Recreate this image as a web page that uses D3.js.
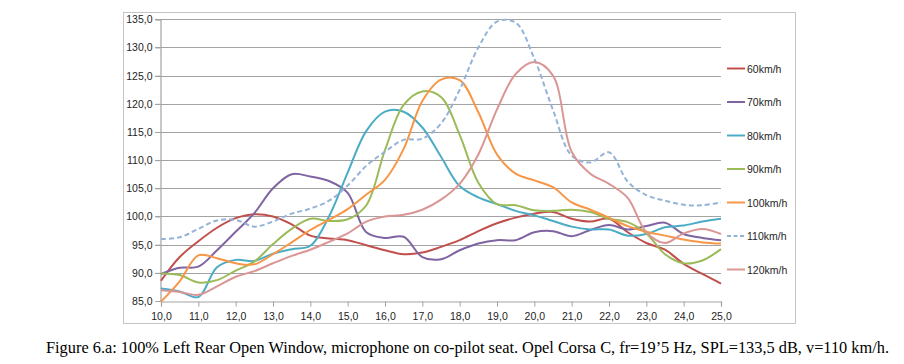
<!DOCTYPE html>
<html>
<head>
<meta charset="utf-8">
<script src="https://cdn.jsdelivr.net/npm/d3@7"></script>
<style>
  html, body { margin: 0; padding: 0; background: #ffffff; }
  svg { display: block; }
</style>
</head>
<body>
<svg id="chart" width="904" height="364"></svg>
<script>
// ---- data ----
const freqs = [10,10.5,11,11.5,12,12.5,13,13.5,14,14.5,15,15.5,16,16.5,17,17.5,18,18.5,19,19.5,20,20.5,21,21.5,22,22.5,23,23.5,24,24.5,25];
const seriesNames = ["60km/h","70km/h","80km/h","90km/h","100km/h","110km/h","120km/h"];
const v60  = [88.6,92.8,95.6,98.0,99.7,100.4,100.0,98.6,96.6,96.1,95.8,94.9,94.0,93.3,93.6,94.6,95.8,97.4,98.8,99.8,100.5,100.8,99.6,99.1,99.6,97.2,95.3,94.1,91.6,89.8,88.1];
const v70  = [89.8,90.9,91.1,94.0,97.3,100.6,105.0,107.5,107.1,106.3,104.2,97.2,96.2,96.4,92.8,92.4,94.0,95.2,95.8,95.8,97.2,97.4,96.5,97.6,98.5,97.7,98.3,98.9,96.9,96.2,95.8];
const v80  = [87.2,86.7,85.7,91.0,92.3,92.1,93.4,94.2,94.8,100.0,107.8,115.2,118.6,118.6,115.8,110.6,105.4,103.4,102.2,101.0,100.2,99.2,98.2,97.7,97.7,96.6,96.9,98.1,98.4,99.1,99.6];
const v90  = [89.9,89.6,88.3,88.7,90.4,92.0,95.1,97.8,99.6,99.2,99.5,102.0,111.8,119.8,122.2,121.2,114.5,106.0,102.2,102.0,101.1,101.0,101.2,100.8,99.6,99.0,97.0,93.3,91.7,92.2,94.2];
const v100 = [84.9,88.5,93.1,92.6,91.7,91.5,93.3,95.4,97.6,99.4,101.3,103.9,106.5,112.0,120.5,124.3,124.2,118.5,111.0,107.6,106.4,105.2,102.5,101.2,99.8,98.3,97.3,96.6,95.9,95.4,95.2];
const v110 = [96.0,96.3,97.8,99.3,99.4,98.2,99.1,100.5,101.4,102.8,105.5,109.0,111.5,113.6,113.8,116.5,122.5,130.0,134.6,134.4,128.0,118.9,110.8,109.6,111.4,106.2,103.8,102.8,102.1,102.0,102.5];
const v120 = [86.9,86.6,86.1,87.6,89.3,90.3,91.7,93.0,94.1,95.5,97.0,99.1,100.0,100.3,101.2,103.0,105.8,111.0,119.0,125.3,127.4,125.0,111.5,107.6,105.8,103.3,97.2,95.3,97.0,97.8,96.9];
const xTicks = [10,11,12,13,14,15,16,17,18,19,20,21,22,23,24,25];
const yTicks = [85,90,95,100,105,110,115,120,125,130,135];
const caption = "Figure 6.a: 100% Left Rear Open Window, microphone on co-pilot seat. Opel Corsa C, fr=19\u20195 Hz, SPL=133,5 dB, v=110 km/h.";

const seriesValues = [v60, v70, v80, v90, v100, v110, v120];
const colors = ["#C0504D","#8064A2","#4BACC6","#9BBB59","#F79646","#95B3D7","#DA9694"];
const dashed = [false,false,false,false,false,true,false];

// ---- layout ----
const svg = d3.select("#chart");
const x = d3.scaleLinear().domain([10, 25]).range([161, 721]);
const y = d3.scaleLinear().domain([85, 135]).range([301, 19.3]);
const fmt = d => d3.format(".1f")(d).replace(".", ",");

// outer chart border
svg.append("rect")
  .attr("x", 123.5).attr("y", 12.5).attr("width", 672).attr("height", 311)
  .attr("fill", "#fff").attr("stroke", "#c4c4c4").attr("stroke-width", 1);

// gridlines
svg.append("g").selectAll("line").data(yTicks.filter(d => d > 85)).join("line")
  .attr("x1", 155).attr("x2", x(25))
  .attr("y1", d => Math.round(y(d)) + 0.5).attr("y2", d => Math.round(y(d)) + 0.5)
  .attr("stroke", "#a3a3a3").attr("stroke-width", 1.2);

// y axis
const yAxis = d3.axisLeft(y).tickValues(yTicks).tickFormat(fmt).tickSize(5).tickPadding(3);
const gy = svg.append("g").attr("transform", "translate(160.5,0)").call(yAxis);
gy.select(".domain").attr("stroke", "#a3a3a3").attr("stroke-width", 1.2);
gy.selectAll(".tick line").attr("stroke", "#a3a3a3");
gy.selectAll("text").attr("font-family", "Liberation Sans, Arial, sans-serif")
  .attr("font-size", 10.5).attr("fill", "#1e1e1e");

// x axis
const xAxis = d3.axisBottom(x).tickValues(xTicks).tickFormat(fmt).tickSize(5).tickPadding(6);
const gx = svg.append("g").attr("transform", "translate(0,301.5)").call(xAxis);
gx.select(".domain").attr("stroke", "#a3a3a3").attr("stroke-width", 1.2);
gx.selectAll(".tick line").attr("stroke", "#a3a3a3");
gx.selectAll("text").attr("font-family", "Liberation Sans, Arial, sans-serif")
  .attr("font-size", 10.5).attr("fill", "#1e1e1e");

// lines
const line = d3.line()
  .x((d, i) => x(freqs[i]))
  .y(d => y(d))
  .curve(d3.curveCatmullRom.alpha(0.5));

svg.append("g").selectAll("path").data(seriesValues).join("path")
  .attr("d", d => line(d))
  .attr("fill", "none")
  .attr("stroke", (d, i) => colors[i])
  .attr("stroke-width", 2)
  .attr("stroke-dasharray", (d, i) => dashed[i] ? "5,3" : null)
  .attr("stroke-linejoin", "round");

// legend
const lg = svg.append("g").selectAll("g").data(seriesNames).join("g")
  .attr("transform", (d, i) => `translate(727,${68.5 + i * 33.5})`);
lg.append("line").attr("x1", 0).attr("x2", 18).attr("y1", 0).attr("y2", 0)
  .attr("stroke", (d, i) => colors[i]).attr("stroke-width", 2)
  .attr("stroke-dasharray", (d, i) => dashed[i] ? "4,2.5" : null);
lg.append("text").attr("x", 20).attr("y", 4).text(d => d)
  .attr("font-family", "Liberation Sans, Arial, sans-serif")
  .attr("font-size", 10.5).attr("fill", "#1e1e1e");

// caption
svg.append("text").attr("x", 46).attr("y", 353).text(caption)
  .attr("font-family", "Liberation Serif, DejaVu Serif, serif")
  .attr("font-size", 16.5).attr("fill", "#000")
  .attr("textLength", 843).attr("lengthAdjust", "spacingAndGlyphs");
</script>
</body>
</html>
